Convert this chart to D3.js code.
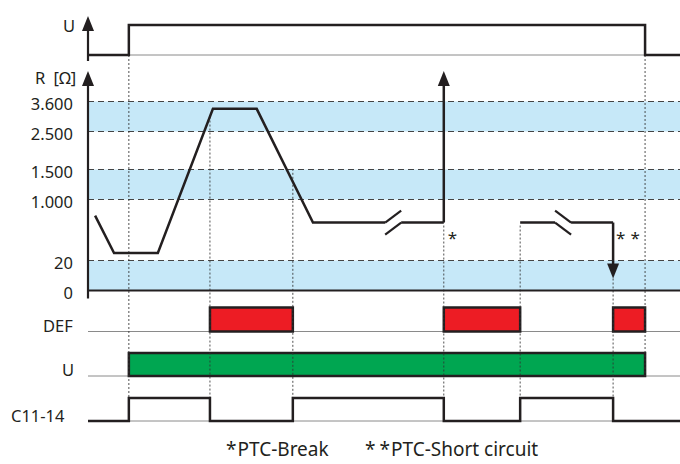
<!DOCTYPE html>
<html><head><meta charset="utf-8">
<script src="https://cdn.jsdelivr.net/npm/d3@7"></script>
<style>
body{margin:0;background:#fff}
svg{display:block}
text{font-family:"Noto Sans",sans-serif;fill:#231f20}
</style>
</head><body>
<svg id="c" width="680" height="464"></svg>
<script>
// ---------------- data ----------------
const rTicks = [0, 20, 1000, 1500, 2500, 3600];
const rTickLabels = ["0", "20", "1.000", "1.500", "2.500", "3.600"];
const rBands = [[0, 20], [1000, 1500], [2500, 3600]];
// resistance curve segments [time, ohm]
const rCurveA = [[1.2, 740], [4.4, 140], [11.8, 140], [21.1, 3330], [28.5, 3330], [38, 630], [50.2, 630]];
const rCurveB = [[52.9, 630], [60.1, 630]];
const rCurveC = [[73, 630], [78.9, 630]];
const rCurveD = [[81.6, 630], [88.7, 630]];
const breakEvent = [60.1, 630];      // PTC break -> R to infinity
const shortEvent = [88.7, 630, 8];   // PTC short circuit -> R to ~0
const uOn = [6.9, 94.1];
const defIntervals = [[20.6, 34.6], [60.1, 73], [88.7, 94.1]];
const relayOn = [[6.9, 20.6], [34.6, 60.1], [73, 88.7]];
const guideTimes = [6.9, 20.6, 34.6, 60.1, 73, 88.7, 94.1];
const rowLabels = ["U", "R [Ω]", "DEF", "U", "C11-14"];
const footnotes = ["*PTC-Break", "**PTC-Short circuit"];

// ---------------- layout ----------------
const L = {
  x0: 88, x1: 680,
  uHigh: 25, uLow: 55, uTip: 16,
  rTip: 71, rTickPos: [290.5, 260.5, 199.5, 169.5, 131.5, 101.5],
  defBase: 331.5, defTop: 307.5,
  gBase: 376, gTop: 353,
  cBase: 421, cHigh: 398
};
const ink = "#231f20";
const svg = d3.select("#c");

const x = d3.scaleLinear().domain([0, 100]).range([L.x0, L.x1]);
const y = d3.scaleLinear().domain(rTicks).range(L.rTickPos);
const line = d3.line().x(d => x(d[0])).y(d => y(d[1]));

function interpR(t) {
  const pts = rCurveA.concat(rCurveB, rCurveC, rCurveD);
  for (let i = 0; i < pts.length - 1; i++) {
    const a = pts[i], b = pts[i + 1];
    if (t >= a[0] && t <= b[0]) return a[1] + (b[1] - a[1]) * (t - a[0]) / (b[0] - a[0]);
  }
  return pts[pts.length - 1][1];
}

// blue bands
svg.append("g").selectAll("rect").data(rBands).join("rect")
  .attr("x", L.x0).attr("width", L.x1 - L.x0)
  .attr("y", d => y(d[1])).attr("height", d => y(d[0]) - y(d[1]))
  .attr("fill", "#c6e8f8");

// dashed threshold lines
svg.append("g").selectAll("line").data(rTicks.slice(1)).join("line")
  .attr("x1", L.x0).attr("x2", L.x1)
  .attr("y1", d => y(d)).attr("y2", d => y(d))
  .attr("stroke", "#444").attr("stroke-width", 1.1).attr("stroke-dasharray", "6,4");

// tick labels
svg.append("g").selectAll("text").data(rTicks).join("text")
  .attr("x", 73).attr("y", d => y(d) + 8)
  .attr("text-anchor", "end").attr("font-size", 16.5)
  .text((d, i) => rTickLabels[i]);

// thin baselines
[L.uLow, L.defBase, L.gBase, L.cBase].forEach(b => {
  svg.append("line").attr("x1", L.x0).attr("x2", L.x1).attr("y1", b).attr("y2", b)
    .attr("stroke", "#8a8a8a").attr("stroke-width", 1);
});

// guide dotted lines
function guideTop(t) {
  if (t === uOn[0] || t === uOn[1]) return L.uLow;
  if (t === shortEvent[0]) return y(shortEvent[2]);
  return y(interpR(t)) + 3;
}
function guideBottom(t) { return t === uOn[1] ? L.gBase : L.cHigh; }

// bars: DEF
svg.append("g").selectAll("rect").data(defIntervals).join("rect")
  .attr("x", d => x(d[0])).attr("width", d => x(d[1]) - x(d[0]))
  .attr("y", L.defTop).attr("height", L.defBase - L.defTop)
  .attr("fill", "#ed1c24").attr("stroke", ink).attr("stroke-width", 2.5);
// bar: U supply
svg.append("rect")
  .attr("x", x(uOn[0])).attr("width", x(uOn[1]) - x(uOn[0]))
  .attr("y", L.gTop).attr("height", L.gBase - L.gTop)
  .attr("fill", "#00a651").attr("stroke", ink).attr("stroke-width", 2.5);

svg.append("g").selectAll("line").data(guideTimes).join("line")
  .attr("x1", d => x(d)).attr("x2", d => x(d))
  .attr("y1", d => guideTop(d)).attr("y2", d => guideBottom(d))
  .attr("stroke", "#333").attr("stroke-width", 1).attr("stroke-dasharray", "2,2")
  .attr("opacity", 0.85);

// U top signal
const uPath = [[0, 0], [uOn[0], 0], [uOn[0], 1], [uOn[1], 1], [uOn[1], 0], [100, 0]];
svg.append("path")
  .attr("d", d3.line().x(d => x(d[0])).y(d => d[1] ? L.uHigh : L.uLow)(uPath))
  .attr("fill", "none").attr("stroke", ink).attr("stroke-width", 2.5);

// C11-14 signal
const cPts = [[0, 0]];
relayOn.forEach(r => { cPts.push([r[0], 0], [r[0], 1], [r[1], 1], [r[1], 0]); });
cPts.push([100, 0]);
svg.append("path")
  .attr("d", d3.line().x(d => x(d[0])).y(d => d[1] ? L.cHigh : L.cBase)(cPts))
  .attr("fill", "none").attr("stroke", ink).attr("stroke-width", 2.5);

// R zero axis
svg.append("line").attr("x1", L.x0).attr("x2", L.x1).attr("y1", y(0)).attr("y2", y(0))
  .attr("stroke", ink).attr("stroke-width", 2.2);

// vertical axes with arrows
function arrowUp(cx, tip) {
  svg.append("path").attr("d", `M${cx},${tip} L${cx - 6},${tip + 15} L${cx + 6},${tip + 15} Z`).attr("fill", ink);
}
function arrowDown(cx, tip) {
  svg.append("path").attr("d", `M${cx},${tip} L${cx - 6},${tip - 15} L${cx + 6},${tip - 15} Z`).attr("fill", ink);
}
svg.append("line").attr("x1", L.x0).attr("x2", L.x0).attr("y1", L.uTip + 5).attr("y2", L.uLow + 6)
  .attr("stroke", ink).attr("stroke-width", 2.2);
arrowUp(L.x0, L.uTip);
svg.append("line").attr("x1", L.x0).attr("x2", L.x0).attr("y1", L.rTip + 5).attr("y2", y(0) + 8)
  .attr("stroke", ink).attr("stroke-width", 2.2);
arrowUp(L.x0, L.rTip);

// R curve
const curveStyle = s => s.attr("fill", "none").attr("stroke", ink).attr("stroke-width", 2.5).attr("stroke-linejoin", "miter");
[rCurveA, rCurveB, rCurveC, rCurveD].forEach(seg => svg.append("path").attr("d", line(seg)).call(curveStyle));

// break marks
function slash(t0, dy0, t1, dy1, v) {
  svg.append("line").attr("x1", x(t0)).attr("y1", y(v) + dy0).attr("x2", x(t1)).attr("y2", y(v) + dy1)
    .attr("stroke", ink).attr("stroke-width", 2.2);
}
slash(rCurveA[rCurveA.length - 1][0], 0, rCurveB[0][0], -12, 630);
slash(rCurveA[rCurveA.length - 1][0], 12, rCurveB[0][0], 0, 630);
slash(rCurveC[rCurveC.length - 1][0], -12, rCurveD[0][0], 0, 630);
slash(rCurveC[rCurveC.length - 1][0], 0, rCurveD[0][0], 12, 630);

// PTC break: up to infinity
svg.append("line").attr("x1", x(breakEvent[0])).attr("x2", x(breakEvent[0]))
  .attr("y1", y(breakEvent[1])).attr("y2", L.rTip + 6).attr("stroke", ink).attr("stroke-width", 2.5);
arrowUp(x(breakEvent[0]), L.rTip);
// PTC short: down
svg.append("line").attr("x1", x(shortEvent[0])).attr("x2", x(shortEvent[0]))
  .attr("y1", y(shortEvent[1])).attr("y2", y(shortEvent[2]) - 6).attr("stroke", ink).attr("stroke-width", 2.5);
arrowDown(x(shortEvent[0]), y(shortEvent[2]));

// asterisks
svg.append("text").attr("x", x(breakEvent[0]) + 4).attr("y", y(breakEvent[1]) + 21)
  .attr("font-size", 17).text("*");
const ss = svg.append("text").attr("x", x(shortEvent[0]) + 3).attr("y", y(shortEvent[1]) + 21)
  .attr("font-size", 17);
ss.append("tspan").attr("letter-spacing", 5).text("*");
ss.append("tspan").text("*");

// row labels
const labelPos = [[63, 32], [35, 84], [43, L.defBase], [62, L.gBase], [11, L.cBase + 1]];
svg.append("g").selectAll("text").data(rowLabels).join("text")
  .attr("x", (d, i) => labelPos[i][0]).attr("y", (d, i) => labelPos[i][1])
  .attr("font-size", 16.5).attr("word-spacing", 4).text(d => d);

// footnotes
const fnX = [226, 365];
footnotes.forEach((f, i) => {
  const t = svg.append("text").attr("x", fnX[i]).attr("y", 456).attr("font-size", 19);
  const stars = f.match(/^\*+/)[0];
  if (stars.length > 1) {
    t.append("tspan").attr("letter-spacing", 4).text(stars.slice(0, -1));
  }
  t.append("tspan").attr("letter-spacing", 1).text("*");
  t.append("tspan").text(f.slice(stars.length));
});
</script>
</body></html>
